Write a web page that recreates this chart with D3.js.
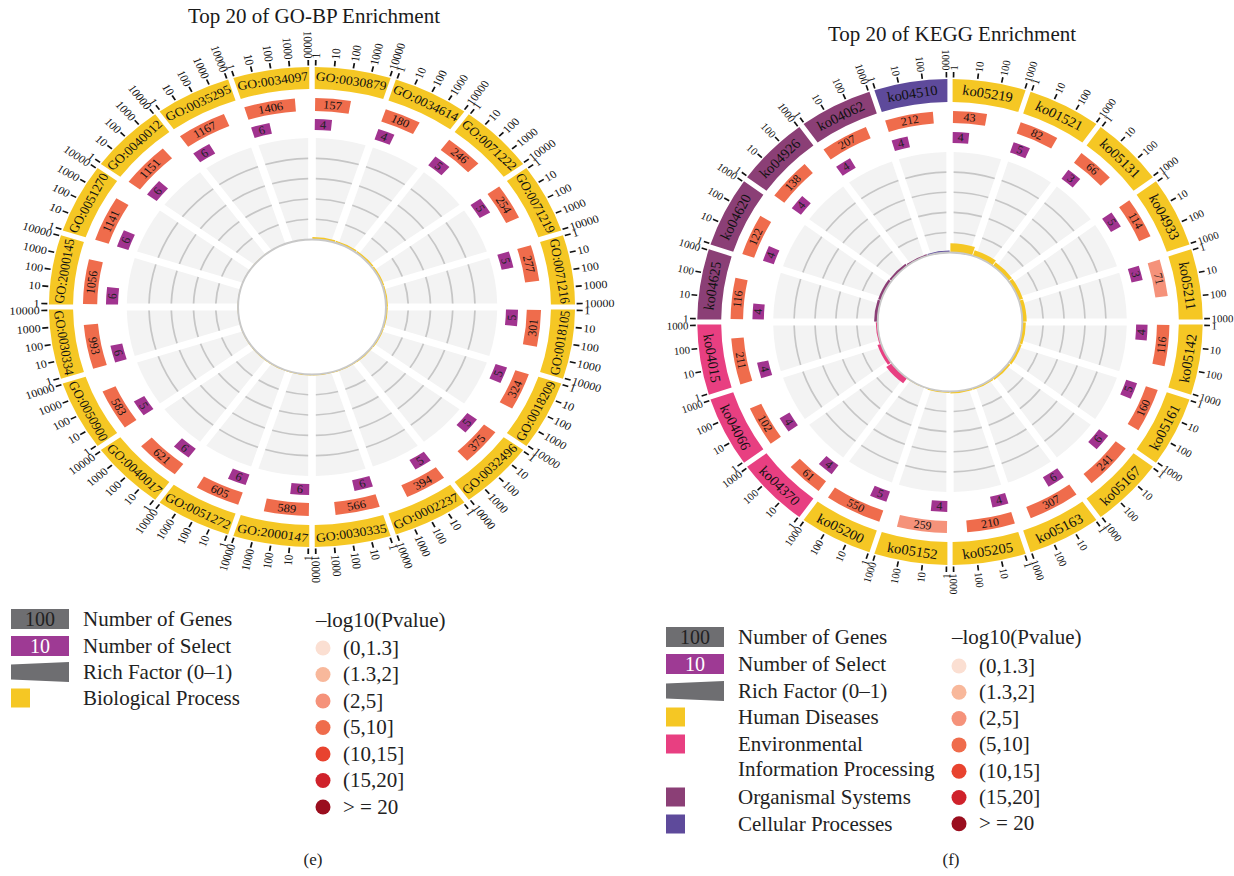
<!DOCTYPE html>
<html><head><meta charset="utf-8">
<script src="https://cdn.jsdelivr.net/npm/d3@7"></script>
<style>
body{margin:0;background:#fff;}
svg{display:block;font-family:"Liberation Serif","Times New Roman",serif;}
</style></head><body>
<svg id="chart" width="1234" height="876"></svg>
<script>
// ---------- GO-BP enrichment (top 20) ----------
const goTerms = ["GO:0030879","GO:0034614","GO:0071222","GO:0071219","GO:0071216","GO:0018105","GO:0018209","GO:0032496","GO:0002237","GO:0030335","GO:2000147","GO:0051272","GO:0040017","GO:0050900","GO:0030334","GO:2000145","GO:0051270","GO:0040012","GO:0035295","GO:0034097"];
const goGenes  = [157,180,246,254,277,301,324,375,394,566,589,605,621,583,993,1056,1141,1151,1167,1406];
const goSelect = [4,4,5,5,5,5,5,5,5,6,6,6,6,5,6,6,6,6,6,6];
const goPvalue = Array(20).fill("(5,10]");
const goCategory = Array(20).fill("Biological Process");
const goTicks = [1,10,100,1000,10000];

// ---------- KEGG enrichment (top 20) ----------
const keggTerms  = ["ko05219","ko01521","ko05131","ko04933","ko05211","ko05142","ko05161","ko05167","ko05163","ko05205","ko05152","ko05200","ko04370","ko04066","ko04015","ko04625","ko04620","ko04926","ko04062","ko04510"];
const keggGenes  = [43,82,66,114,71,116,160,241,307,210,259,550,61,102,211,116,122,138,207,212];
const keggSelect = [4,5,3,5,3,4,5,6,6,4,4,5,4,4,4,4,4,4,4,4];
const keggPvalue = ["(5,10]","(5,10]","(5,10]","(5,10]","(2,5]","(5,10]","(5,10]","(5,10]","(5,10]","(5,10]","(2,5]","(5,10]","(5,10]","(5,10]","(5,10]","(5,10]","(5,10]","(5,10]","(5,10]","(5,10]"];
const keggCategory = ["Human Diseases","Human Diseases","Human Diseases","Human Diseases","Human Diseases","Human Diseases","Human Diseases","Human Diseases","Human Diseases","Human Diseases","Human Diseases","Human Diseases","Environmental Information Processing","Environmental Information Processing","Environmental Information Processing","Organismal Systems","Organismal Systems","Organismal Systems","Organismal Systems","Cellular Processes"];
const keggTicks = [1,10,100,1000];

// ---------- shared legend content ----------
const pvalueBins   = ["(0,1.3]","(1.3,2]","(2,5]","(5,10]","(10,15]","(15,20]","> = 20"];
const pvalueColors = ["#FBDFD2","#F8B89B","#F5927A","#EF6C4C","#E8432F","#CF222B","#9A0E1E"];
const goCategoryNames   = ["Biological Process"];
const goCategoryColors  = ["#F5C724"];
const keggCategoryNames  = ["Human Diseases","Environmental Information Processing","Organismal Systems","Cellular Processes"];
const keggCategoryColors = ["#F5C724","#E83F81","#8B3F76","#5E4A9B"];

const pColor = d3.scaleOrdinal().domain(pvalueBins).range(pvalueColors);
const SELECT_COLOR = "#A1338F";
const GRAY = "#6E6E71";
const deg = Math.PI / 180;
const svg = d3.select("#chart");

function norm(a) { let d = a / deg; return ((d % 360) + 360) % 360; }
function pt(r, a) { return [r * Math.sin(a), -r * Math.cos(a)]; }
// tangential text, turned upright on the lower half
function tangentRot(a) { const d = norm(a); return (d > 90 && d < 270) ? d - 180 : d; }

function drawCircle(cfg) {
  const g = svg.append("g").attr("transform", `translate(${cfg.cx},${cfg.cy}) scale(${cfg.sx},1)`);
  const n = cfg.terms.length;
  const sector = d3.scaleLinear().domain([0, n]).range([0, 2 * Math.PI]);
  const topLog = Math.log10(d3.max(cfg.ticks));
  const padA = 0.8 * deg;
  const boxAngle = d3.scaleLog().domain([1, 10]).range([3.1 * deg, 5.9 * deg]);
  const catColor = d3.scaleOrdinal().domain(cfg.catNames).range(cfg.catColors);
  const rf = d3.scaleLinear().domain([0, 1]).range([cfg.rIn, cfg.rGrayOut]);

  const idx = d3.range(n);
  const inner = (i) => d3.scaleLinear().domain([0, topLog]).range([sector(i) + padA, sector(i + 1) - padA]);

  // grey background of the rich-factor track
  const grayArc = d3.arc().innerRadius(cfg.rIn).outerRadius(cfg.rGrayOut)
    .padRadius(100).padAngle(0.07);
  g.append("g").selectAll("path").data(idx).join("path")
    .attr("d", i => grayArc({startAngle: sector(i), endAngle: sector(i + 1)}))
    .attr("fill", "#F3F3F3");
  // grid circles at 0.2 .. 0.8
  g.append("g").selectAll("g").data(idx).join("g").each(function(i) {
    const gg = d3.select(this);
    [0.2, 0.4, 0.6, 0.8].forEach(v => {
      const r = rf(v);
      const pad = 3.5 / r;
      gg.append("path")
        .attr("d", d3.arc().innerRadius(r).outerRadius(r)({startAngle: sector(i) + pad, endAngle: sector(i + 1) - pad}))
        .attr("fill", "none").attr("stroke", "#C6C6C6").attr("stroke-width", 1.6);
    });
  });
  // rich factor bars
  g.append("g").selectAll("path").data(idx).join("path")
    .attr("d", i => d3.arc().innerRadius(cfg.rIn).outerRadius(rf(cfg.select[i] / cfg.genes[i]))
      ({startAngle: sector(i) + 0.3 * deg, endAngle: sector(i + 1) - 0.3 * deg}))
    .attr("fill", i => catColor(cfg.category[i]));
  // inner ring outline
  g.append("circle").attr("r", cfg.rIn).attr("fill", "#fff")
    .attr("stroke", "#C8C8C8").attr("stroke-width", 1.8);

  // outer category band with term labels
  const bandArc = d3.arc().innerRadius(cfg.rBandIn).outerRadius(cfg.rBandOut).padRadius(100).padAngle(0.05);
  g.append("g").selectAll("path").data(idx).join("path")
    .attr("d", i => bandArc({startAngle: sector(i), endAngle: sector(i + 1)}))
    .attr("fill", i => catColor(cfg.category[i]));
  g.append("g").selectAll("text").data(idx).join("text")
    .attr("transform", i => {
      const a = sector(i + 0.5); const [x, y] = pt((cfg.rBandIn + cfg.rBandOut) / 2, a);
      return `translate(${x},${y}) rotate(${tangentRot(a)})`;
    })
    .attr("text-anchor", "middle").attr("dominant-baseline", "central")
    .attr("font-size", cfg.labelSize).attr("fill", "#111")
    .text(i => cfg.terms[i]);

  // log-scale ticks around the outside
  const tickG = g.append("g");
  idx.forEach(i => {
    const s = inner(i);
    cfg.ticks.forEach(v => {
      const a = s(Math.log10(v));
      const [x1, y1] = pt(cfg.rBandOut + 1.5, a);
      const [x2, y2] = pt(cfg.rBandOut + 7, a);
      tickG.append("line").attr("x1", x1).attr("y1", y1).attr("x2", x2).attr("y2", y2)
        .attr("stroke", "#111").attr("stroke-width", 1.6);
      const [tx, ty] = pt(cfg.rBandOut + 8.5, a);
      const d = norm(a);
      const right = d < 180;
      tickG.append("text")
        .attr("transform", `translate(${tx},${ty}) rotate(${right ? d - 90 : d + 90})`)
        .attr("text-anchor", right ? "start" : "end").attr("dominant-baseline", "central")
        .attr("font-size", cfg.tickSize).attr("fill", "#111")
        .text(v);
    });
  });

  // number of genes (log length, coloured by p-value class)
  const barG = g.append("g");
  idx.forEach(i => {
    const s = inner(i);
    const a0 = s(0), a1 = s(Math.log10(cfg.genes[i]));
    barG.append("path")
      .attr("d", d3.arc().innerRadius(cfg.rBarIn).outerRadius(cfg.rBarOut)({startAngle: a0, endAngle: a1}))
      .attr("fill", pColor(cfg.pvalue[i]));
    const am = (a0 + a1) / 2; const [x, y] = pt((cfg.rBarIn + cfg.rBarOut) / 2, am);
    barG.append("text").attr("transform", `translate(${x},${y}) rotate(${tangentRot(am)})`)
      .attr("text-anchor", "middle").attr("dominant-baseline", "central")
      .attr("font-size", 11.5).attr("fill", "#111").text(cfg.genes[i]);
  });

  // number of selected genes
  const boxG = g.append("g");
  idx.forEach(i => {
    const s = inner(i);
    const a0 = s(0), a1 = a0 + boxAngle(cfg.select[i]);
    boxG.append("path")
      .attr("d", d3.arc().innerRadius(cfg.rBoxIn).outerRadius(cfg.rBoxOut)({startAngle: a0, endAngle: a1}))
      .attr("fill", SELECT_COLOR);
    const am = (a0 + a1) / 2; const [x, y] = pt((cfg.rBoxIn + cfg.rBoxOut) / 2, am);
    boxG.append("text").attr("transform", `translate(${x},${y}) rotate(${tangentRot(am)})`)
      .attr("text-anchor", "middle").attr("dominant-baseline", "central")
      .attr("font-size", 11.5).attr("fill", "#222").text(cfg.select[i]);
  });
}

function drawTitle(x, y, text) {
  svg.append("text").attr("x", x).attr("y", y).attr("text-anchor", "middle")
    .attr("font-size", 21).attr("fill", "#1a1a1a").text(text);
}

function drawLegend(cfg) {
  const g = svg.append("g");
  const fs = 21;
  // Number of Genes
  g.append("rect").attr("x", cfg.x).attr("y", cfg.rows[0] - 10).attr("width", 58).attr("height", 20).attr("fill", GRAY);
  g.append("text").attr("x", cfg.x + 29).attr("y", cfg.rows[0] + 6.5).attr("text-anchor", "middle")
    .attr("font-size", 20).attr("fill", "#222").text("100");
  // Number of Select
  g.append("rect").attr("x", cfg.x).attr("y", cfg.rows[1] - 10).attr("width", 58).attr("height", 20).attr("fill", "#9E3A94");
  g.append("text").attr("x", cfg.x + 29).attr("y", cfg.rows[1] + 6.5).attr("text-anchor", "middle")
    .attr("font-size", 20).attr("fill", "#fff").text("10");
  // Rich factor wedge
  const y2 = cfg.rows[2];
  g.append("path").attr("d", `M${cfg.x},${y2 - 7.5} L${cfg.x + 58},${y2 - 10} L${cfg.x + 58},${y2 + 10} L${cfg.x},${y2 + 7.5} Z`).attr("fill", GRAY);
  const labels = ["Number of Genes", "Number of Select", "Rich Factor (0\u20131)"];
  labels.forEach((t, k) => g.append("text").attr("x", cfg.tx).attr("y", cfg.rows[k] + 6.5)
    .attr("font-size", fs).attr("fill", "#222").text(t));
  // categories
  cfg.catRows.forEach((c) => {
    const y = c.y;
    if (c.color) g.append("rect").attr("x", cfg.x).attr("y", y - 9.5).attr("width", 19).attr("height", 19).attr("fill", c.color);
    g.append("text").attr("x", cfg.tx).attr("y", y + 6.5).attr("font-size", fs).attr("fill", "#222").text(c.text);
  });
  // p-value classes
  g.append("text").attr("x", cfg.px - 7).attr("y", cfg.pTitleY).attr("font-size", fs).attr("fill", "#222").text("\u2013log10(Pvalue)");
  pvalueBins.forEach((b, k) => {
    const y = cfg.pTop + k * cfg.pStep;
    g.append("circle").attr("cx", cfg.px).attr("cy", y).attr("r", 7.5).attr("fill", pColor(b));
    g.append("text").attr("x", cfg.px + cfg.pTextDx).attr("y", y + 6.5).attr("font-size", fs).attr("fill", "#222").text(b);
  });
}

drawTitle(314, 23, "Top 20 of GO-BP Enrichment");
drawTitle(952, 41, "Top 20 of KEGG Enrichment");

drawCircle({
  cx: 312, cy: 307, sx: 1.096,
  terms: goTerms, genes: goGenes, select: goSelect, pvalue: goPvalue, category: goCategory,
  catNames: goCategoryNames, catColors: goCategoryColors, ticks: goTicks,
  rBandOut: 240, rBandIn: 218, rBarOut: 209, rBarIn: 196, rBoxOut: 188, rBoxIn: 177,
  rGrayOut: 169, rIn: 67.5, labelSize: 12.5, tickSize: 11
});
drawCircle({
  cx: 950, cy: 322, sx: 1.04,
  terms: keggTerms, genes: keggGenes, select: keggSelect, pvalue: keggPvalue, category: keggCategory,
  catNames: keggCategoryNames, catColors: keggCategoryColors, ticks: keggTicks,
  rBandOut: 243, rBandIn: 220, rBarOut: 211, rBarIn: 199, rBoxOut: 190, rBoxIn: 179,
  rGrayOut: 170, rIn: 69.5, labelSize: 14, tickSize: 10.5
});

drawLegend({
  x: 11, tx: 83, rows: [619, 646, 672],
  catRows: [{y: 698, text: goCategoryNames[0], color: goCategoryColors[0]}],
  px: 323, pTitleY: 627, pTop: 648, pStep: 26.5, pTextDx: 20
});
drawLegend({
  x: 666, tx: 738, rows: [637, 664, 691],
  catRows: [
    {y: 717, text: "Human Diseases", color: keggCategoryColors[0]},
    {y: 744, text: "Environmental", color: keggCategoryColors[1]},
    {y: 769, text: "Information Processing", color: null},
    {y: 797, text: "Organismal Systems", color: keggCategoryColors[2]},
    {y: 824, text: "Cellular Processes", color: keggCategoryColors[3]}
  ],
  px: 959, pTitleY: 644, pTop: 666, pStep: 26.3, pTextDx: 20
});

svg.append("text").attr("x", 313).attr("y", 865).attr("text-anchor", "middle").attr("font-size", 17).attr("fill", "#222").text("(e)");
svg.append("text").attr("x", 951).attr("y", 865).attr("text-anchor", "middle").attr("font-size", 17).attr("fill", "#222").text("(f)");
</script>
</body></html>
